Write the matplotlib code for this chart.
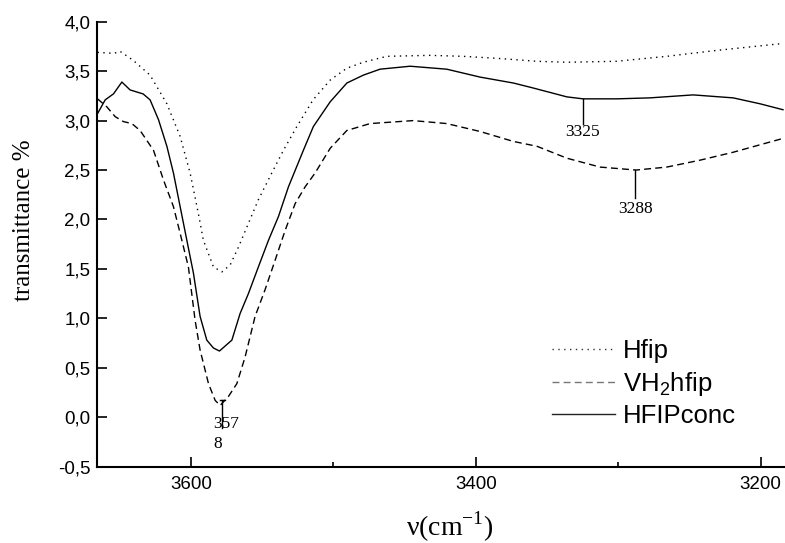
import numpy as np
import matplotlib
matplotlib.use("Agg")
import matplotlib.pyplot as plt
from matplotlib.ticker import MultipleLocator, FuncFormatter

plt.rcParams["mathtext.fontset"] = "custom"
plt.rcParams["mathtext.rm"] = "Liberation Serif"
plt.rcParams["mathtext.sf"] = "Liberation Sans"

# HFIPconc (solid)
WN_CONC = [3665.5, 3660.1, 3654.3, 3648.4, 3642.6, 3633.5, 3628.6, 3622.7, 3616.8, 3612.2,
           3607.5, 3602.8, 3598.2, 3593.5, 3588.8, 3584.1, 3579.9, 3571.2, 3565.4, 3559.6,
           3552.6, 3545.5, 3538.5, 3531.5, 3521.0, 3514.0, 3502.2, 3490.5, 3478.9, 3467.2,
           3446.1, 3420.4, 3397.0, 3373.6, 3359.8, 3336.1, 3324.7, 3301.1, 3277.7, 3247.5,
           3219.4, 3200.5, 3184.4]
T_CONC = [3.07, 3.21, 3.27, 3.39, 3.31, 3.27, 3.21, 3.01, 2.74, 2.47,
          2.13, 1.79, 1.46, 1.02, 0.78, 0.70, 0.67, 0.78, 1.05, 1.25,
          1.52, 1.79, 2.03, 2.33, 2.70, 2.94, 3.19, 3.38, 3.46, 3.52,
          3.55, 3.52, 3.44, 3.38, 3.33, 3.24, 3.22, 3.22, 3.23, 3.26,
          3.23, 3.17, 3.11]

# VH2hfip (dashed)
WN_VH = [3665.5, 3659.0, 3653.1, 3647.3, 3641.4, 3635.6, 3626.2, 3619.2, 3612.2, 3607.5,
         3601.7, 3597.0, 3593.5, 3587.6, 3582.9, 3579.4, 3573.6, 3567.7, 3561.9, 3554.9,
         3547.9, 3540.8, 3533.8, 3526.8, 3519.8, 3512.8, 3502.2, 3490.5, 3474.2, 3444.0,
         3420.4, 3397.0, 3373.8, 3357.0, 3336.1, 3312.8, 3287.5, 3266.0, 3242.6, 3219.4,
         3184.4]
T_VH = [3.22, 3.14, 3.04, 2.99, 2.97, 2.90, 2.70, 2.40, 2.13, 1.86,
        1.52, 0.98, 0.68, 0.34, 0.17, 0.12, 0.21, 0.34, 0.61, 1.02,
        1.29, 1.59, 1.89, 2.16, 2.33, 2.47, 2.72, 2.90, 2.97, 3.00,
        2.97, 2.89, 2.79, 2.74, 2.62, 2.53, 2.50, 2.53, 2.60, 2.68,
        2.82]

# Hfip (dotted)
WN_HFIP = [3665.5, 3654.0, 3649.6, 3640.5, 3628.6, 3616.8, 3607.5, 3600.5, 3594.7, 3591.2,
           3584.1, 3578.2, 3572.4, 3566.6, 3559.6, 3552.6, 3543.2, 3535.0, 3525.6, 3514.2,
           3502.2, 3490.5, 3479.0, 3462.5, 3432.1, 3408.9, 3385.3, 3357.2, 3336.1, 3301.1,
           3266.0, 3230.9, 3184.4]
T_HFIP = [3.69, 3.68, 3.70, 3.61, 3.46, 3.17, 2.84, 2.47, 2.06, 1.79,
          1.52, 1.47, 1.54, 1.72, 1.96, 2.20, 2.47, 2.70, 2.94, 3.21,
          3.41, 3.53, 3.59, 3.65, 3.66, 3.65, 3.63, 3.60, 3.59, 3.60,
          3.65, 3.71, 3.78]

LABELS = ["Hfip", "VH$_{\\mathsf{2}}$hfip", "HFIPconc"]
PEAKS = [(3578, "357\n8"), (3325, "3325"), (3288, "3288")]

fig = plt.figure(figsize=(7.85, 5.43), dpi=100)
ax = fig.add_axes([0.1242, 0.1405, 0.8758, 0.8195])

l1, = ax.plot(WN_HFIP, T_HFIP, color="k", lw=1.0, dashes=(1, 3.2), label=LABELS[0])
l2, = ax.plot(WN_VH, T_VH, color="k", lw=1.0, dashes=(5, 3), label=LABELS[1])
l3, = ax.plot(WN_CONC, T_CONC, color="k", lw=1.0, label=LABELS[2])

# peak markers
tfont = dict(family="Liberation Serif", fontsize=12.5)
wn0, lab0 = PEAKS[0]
y0 = np.interp(wn0, WN_VH[::-1], T_VH[::-1]) + 0.03
ax.plot([wn0, wn0], [y0, y0 - 0.28], color="k", lw=1.0)
ax.plot([wn0 + 1.8, wn0 - 1.8], [y0, y0], color="k", lw=1.0)
ax.text(wn0 + 6.2, y0 - 0.48, lab0, ha="left", va="baseline", linespacing=1.3,
        multialignment="left", **tfont)
for (wn, lab), (xs, ys, dl, dt) in zip(PEAKS[1:], [(WN_CONC, T_CONC, 0.25, 0.38),
                                                   (WN_VH, T_VH, 0.28, 0.43)]):
    yp = np.interp(wn, xs[::-1], ys[::-1])
    ax.plot([wn, wn], [yp, yp - dl], color="k", lw=1.0)
    ax.text(wn, yp - dt, lab, ha="center", va="baseline", **tfont)

ax.set_xlim(3665.5, 3183)
ax.set_ylim(-0.5, 4.0)
ax.xaxis.set_major_locator(MultipleLocator(200))
ax.xaxis.set_minor_locator(MultipleLocator(100))
ax.yaxis.set_major_locator(MultipleLocator(0.5))
ax.yaxis.set_major_formatter(FuncFormatter(lambda v, p: f"{v:.1f}".replace(".", ",")))
ax.tick_params(axis="both", which="major", direction="in", length=7, width=1.2,
               labelsize=13.5, labelfontfamily="Liberation Sans")
ax.tick_params(axis="x", which="major", pad=6.5)
ax.tick_params(axis="y", which="major", pad=5)
ax.tick_params(axis="x", which="minor", direction="in", length=3.3, width=1.2)
for s in ("top", "right"):
    ax.spines[s].set_visible(False)
for s in ("left", "bottom"):
    ax.spines[s].set_linewidth(1.5)

ax.set_xlabel("ν(cm$^{\\mathrm{-1}}$)", family="Liberation Serif", fontsize=20)
ax.xaxis.set_label_coords(0.513, -0.097)
ax.set_ylabel("transmittance %", family="Liberation Serif", fontsize=18)
ax.yaxis.set_label_coords(-0.091, 0.554)

leg = ax.legend(handles=[l1, l2, l3], loc="upper left", bbox_to_anchor=(0.661, 0.287),
                frameon=False, borderpad=0, borderaxespad=0, handlelength=2.45,
                handletextpad=0.31, labelspacing=0.26,
                prop=dict(family="Liberation Sans", size=18.5))
for ln, c in zip(leg.get_lines(), ["#333333", "#777777", "#222222"]):
    ln.set_color(c)

fig.savefig("out.png", dpi=100, facecolor="white")
